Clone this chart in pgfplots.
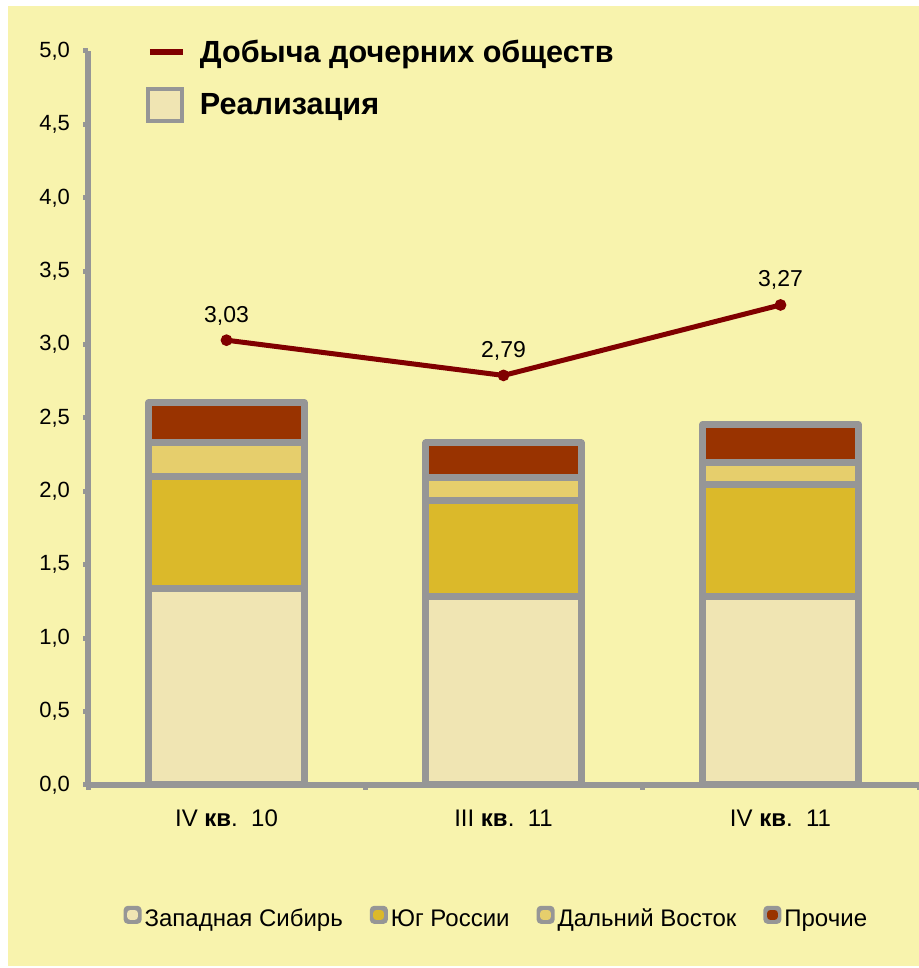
\documentclass[border=0pt]{standalone}
\usepackage{fontspec}
\setmainfont{Liberation Sans}
\usepackage{pgfplots}
\pgfplotsset{compat=1.18}
\definecolor{bg}{HTML}{F8F3AD}
\definecolor{gr}{HTML}{969696}
\definecolor{cWS}{HTML}{F0E5B3}
\definecolor{cSouth}{HTML}{DBB92A}
\definecolor{cFE}{HTML}{E6CE6C}
\definecolor{cOth}{HTML}{993300}
\definecolor{dred}{HTML}{800000}
\begin{document}
\begin{tikzpicture}
\useasboundingbox (0,0) rectangle (459.5pt,484pt);
\fill[white] (0,0) rectangle (459.5pt,484pt);
\fill[bg] (4pt,1pt) rectangle (459.5pt,481pt);
\pgfplotsset{
  common/.style={
    at={(44pt,91.5pt)}, anchor=south west, scale only axis,
    width=415.5pt, height=367pt,
    xmin=-0.5, xmax=2.5, ymin=0, ymax=5,
  }
}
\begin{axis}[common,
  ybar stacked, bar width=0.56,
  axis x line*=bottom, axis y line*=left,
  axis line style={gr, line width=3pt},
  tick style={gr, line width=2.5pt},
  major tick length=2.5pt, tick align=outside,
  ytick={0,0.5,...,5},
  yticklabel style={font=\fontsize{11}{13}\selectfont, xshift=-3pt,
    /pgf/number format/.cd, fixed, fixed zerofill, precision=1, use comma, assume math mode=true},
  xtick={-0.5,0.5,1.5,2.5}, xticklabels={,,,},
  extra x ticks={0,1,2},
  extra x tick labels={IV \textbf{кв}.\ \ 10, III \textbf{кв}.\ \ 11, IV \textbf{кв}.\ \ 11},
  extra x tick style={major tick length=0pt, xticklabel style={font=\fontsize{12}{14}\selectfont, yshift=-9pt}},
  legend style={at={(0.492,-0.183)}, anchor=center, draw=none, fill=none,
    legend columns=4, font=\fontsize{12}{14}\selectfont,
    /tikz/every even column/.append style={column sep=12pt},
    nodes={inner xsep=1.5pt}},
  legend cell align=left,
  clip=false,
]
\addplot[fill=cWS, draw=gr, line width=3.5pt, line join=round,
  legend image code/.code={\fill[gr,rounded corners=0.3pt] (0pt,-0.5pt) rectangle (5.5pt,5pt); \fill[cWS] (1.8pt,1.4pt) rectangle (3.7pt,3.1pt);}]
  coordinates {(0,1.34) (1,1.286) (2,1.286)};
\addplot[fill=cSouth, draw=gr, line width=3.5pt, line join=round,
  legend image code/.code={\fill[gr,rounded corners=0.3pt] (0pt,-0.5pt) rectangle (5.5pt,5pt); \fill[cSouth] (1.8pt,1.4pt) rectangle (3.7pt,3.1pt);}]
  coordinates {(0,0.76) (1,0.654) (2,0.762)};
\addplot[fill=cFE, draw=gr, line width=3.5pt, line join=round,
  legend image code/.code={\fill[gr,rounded corners=0.3pt] (0pt,-0.5pt) rectangle (5.5pt,5pt); \fill[cFE] (1.8pt,1.4pt) rectangle (3.7pt,3.1pt);}]
  coordinates {(0,0.235) (1,0.155) (2,0.149)};
\addplot[fill=cOth, draw=gr, line width=3.5pt, line join=round,
  legend image code/.code={\fill[gr,rounded corners=0.3pt] (0pt,-0.5pt) rectangle (5.5pt,5pt); \fill[cOth] (1.8pt,1.4pt) rectangle (3.7pt,3.1pt);}]
  coordinates {(0,0.27) (1,0.235) (2,0.259)};
\legend{Западная Сибирь, Юг России, Дальний Восток, Прочие}
\end{axis}
\begin{axis}[common, hide axis, clip=false,
  legend style={at={(0.062,1.027)}, anchor=north west, draw=none, fill=none,
    font=\bfseries\fontsize{15.3}{18}\selectfont, row sep=9pt},
  legend cell align=left,
  nodes near coords={\pgfmathprintnumber[fixed,fixed zerofill,precision=2,use comma,assume math mode=true]{\pgfplotspointmeta}},
  nodes near coords style={font=\fontsize{11.5}{13}\selectfont, anchor=south, yshift=3pt, text=black},
]
\addplot[dred, line width=2.5pt, mark=*, mark size=1.6pt,
  legend image code/.code={\draw[dred, line width=3pt] (1pt,0pt)--(17.5pt,0pt); \path[draw=none,fill=none] (0pt,0pt) rectangle (24pt,0.1pt);}]
  coordinates {(0,3.03) (1,2.79) (2,3.27)};
\addlegendentry{Добыча дочерних обществ}
\addlegendimage{legend image code/.code={\draw[fill=cWS, draw=gr, line width=2pt] (0pt,-8pt) rectangle (17pt,8pt); \path[draw=none,fill=none] (0pt,0pt) rectangle (24pt,0.1pt);}}
\addlegendentry{Реализация}
\end{axis}
\end{tikzpicture}
\end{document}
